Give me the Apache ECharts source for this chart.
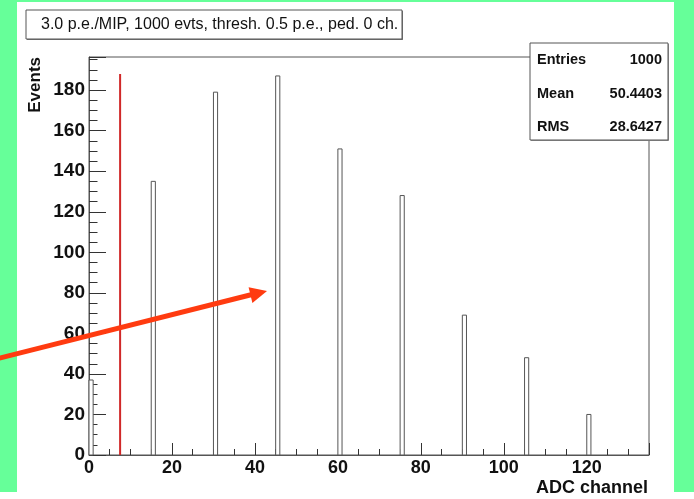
<!DOCTYPE html>
<html>
<head>
<meta charset="utf-8">
<script src="https://cdn.jsdelivr.net/npm/echarts@6/dist/echarts.min.js"></script>
<style>
  html, body { margin: 0; padding: 0; background: #66ff99; }
  #chart { width: 694px; height: 499px; }
</style>
</head>
<body>
<div id="chart"></div>
<script>
// ADC spectrum: lower edge of each filled bin and its entry count
const channels = [0, 15, 30, 45, 60, 75, 90, 105, 120];
const counts = [37, 135, 179, 187, 151, 128, 69, 48, 20];
const binWidth = 1;
// threshold marker: channel and height of the line
const thresholdChannel = 7.5;
const thresholdTop = 188;
// axis ranges
const xRange = [0, 135];
const yRange = [0, 196.35];
// texts
const histTitle = '3.0 p.e./MIP, 1000 evts, thresh. 0.5 p.e., ped. 0 ch.';
const xTitle = 'ADC channel';
const yTitle = 'Events';
const statNames = ['Entries', 'Mean', 'RMS'];
const statValues = ['1000', '50.4403', '28.6427'];

const FONT = '"Liberation Sans", Arial, sans-serif';
const INK = '#111';
const LINE = '#555';

const chart = echarts.init(document.getElementById('chart'));

const barData = channels.map((c, i) => [c, counts[i]]);

function majorOnly(step) {
  return v => (Math.abs(v / step - Math.round(v / step)) < 1e-6 ? String(Math.round(v)) : '');
}

const statRows = [];
statNames.forEach((n, i) => {
  const y = 60 + i * 33.5;
  statRows.push({
    type: 'text', x: 537, y: y, z: 101,
    style: { text: n, font: 'bold 14.5px ' + FONT, fill: INK, align: 'left', verticalAlign: 'middle' }
  });
  statRows.push({
    type: 'text', x: 662, y: y, z: 101,
    style: { text: statValues[i], font: 'bold 14.5px ' + FONT, fill: INK, align: 'right', verticalAlign: 'middle' }
  });
});

const option = {
  animation: false,
  backgroundColor: '#66ff99',
  grid: {
    left: 89, top: 57, right: 45, bottom: 44,
    show: true, backgroundColor: '#fff', borderColor: LINE, borderWidth: 1
  },
  xAxis: [
    {
      type: 'value', min: xRange[0], max: xRange[1], interval: 20, position: 'bottom',
      axisLine: { show: true, lineStyle: { color: LINE, width: 1 } },
      axisTick: { show: true, inside: true, length: 12, lineStyle: { color: '#333' } },
      splitLine: { show: false },
      axisLabel: { margin: 4, formatter: majorOnly(20), color: INK, fontFamily: FONT, fontWeight: 'bold', fontSize: 18 }
    },
    {
      type: 'value', min: xRange[0], max: xRange[1], interval: 5, position: 'bottom',
      axisLine: { show: false },
      axisTick: { show: true, inside: true, length: 6, lineStyle: { color: '#333' } },
      splitLine: { show: false },
      axisLabel: { show: false }
    }
  ],
  yAxis: [
    {
      type: 'value', min: yRange[0], max: yRange[1], interval: 20, position: 'left',
      axisLine: { show: true, lineStyle: { color: LINE, width: 1 } },
      axisTick: { show: true, inside: true, length: 17, lineStyle: { color: '#333' } },
      splitLine: { show: false },
      axisLabel: { margin: 4, formatter: majorOnly(20), color: INK, fontFamily: FONT, fontWeight: 'bold', fontSize: 19 }
    },
    {
      type: 'value', min: yRange[0], max: yRange[1], interval: 5, position: 'left',
      axisLine: { show: false },
      axisTick: { show: true, inside: true, length: 8.5, lineStyle: { color: '#333' } },
      splitLine: { show: false },
      axisLabel: { show: false }
    }
  ],
  series: [
    {
      type: 'custom', xAxisIndex: 0, yAxisIndex: 0,
      data: barData,
      renderItem: function (params, api) {
        const x = api.value(0);
        const v = api.value(1);
        const p0 = api.coord([x, 0]);
        const p1 = api.coord([x + binWidth, v]);
        return {
          type: 'rect',
          shape: { x: p0[0], y: p1[1], width: p1[0] - p0[0], height: p0[1] - p1[1] },
          style: { fill: '#fff', stroke: LINE, lineWidth: 1 }
        };
      }
    },
    {
      type: 'line', xAxisIndex: 0, yAxisIndex: 0,
      data: [[thresholdChannel, 0], [thresholdChannel, thresholdTop]],
      symbol: 'none',
      lineStyle: { color: '#d02828', width: 2 }
    }
  ],
  graphic: [
    // white pad behind the frame
    { type: 'rect', z: -100, shape: { x: 17, y: 2, width: 657, height: 490 }, style: { fill: '#fff' } },
    { type: 'rect', z: -100, shape: { x: 0, y: 492, width: 694, height: 7 }, style: { fill: '#fff' } },
    // histogram title box
    { type: 'rect', z: 99, shape: { x: 27, y: 11, width: 376, height: 29 }, style: { fill: '#777' } },
    { type: 'rect', z: 100, shape: { x: 26, y: 10, width: 376, height: 29 }, style: { fill: '#fff', stroke: LINE, lineWidth: 1 } },
    { type: 'text', z: 101, x: 41, y: 25, style: { text: histTitle, font: '16px ' + FONT, fill: INK, align: 'left', verticalAlign: 'middle' } },
    // statistics box
    { type: 'rect', z: 99, shape: { x: 531, y: 44, width: 138, height: 97 }, style: { fill: '#999' } },
    { type: 'rect', z: 100, shape: { x: 530, y: 43, width: 138, height: 97 }, style: { fill: '#fff', stroke: LINE, lineWidth: 1 } },
    ...statRows,
    // axis titles
    { type: 'text', z: 101, x: 35, y: 57, rotation: Math.PI / 2, style: { text: yTitle, font: 'bold 17px ' + FONT, fill: INK, align: 'right', verticalAlign: 'middle' } },
    { type: 'text', z: 101, x: 648, y: 488, style: { text: xTitle, font: 'bold 18px ' + FONT, fill: INK, align: 'right', verticalAlign: 'middle' } },
    // pointer arrow
    { type: 'line', z: 110, shape: { x1: -4, y1: 359, x2: 254, y2: 294 }, style: { stroke: '#ff3b10', lineWidth: 5 } },
    { type: 'polygon', z: 110, shape: { points: [[267, 291], [252.4, 302.9], [248.6, 287.3]] }, style: { fill: '#ff3b10' } }
  ]
};

chart.setOption(option);
</script>
</body>
</html>
